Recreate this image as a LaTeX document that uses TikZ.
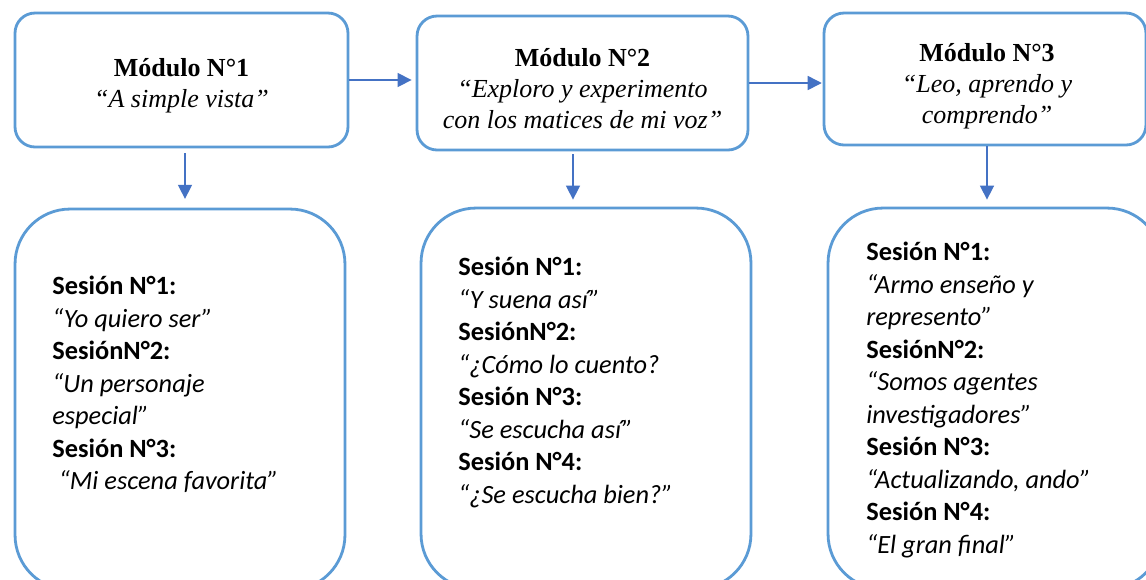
\documentclass[tikz,border=0pt]{standalone}
\usepackage{fontspec}
\setmainfont{Liberation Serif}
\newfontfamily\carlito{Carlito}
\usetikzlibrary{arrows.meta, positioning}

\definecolor{boxblue}{HTML}{5B9BD5}
\definecolor{arrowblue}{HTML}{4472C4}

\begin{document}
\begin{tikzpicture} [x = 0.02cm, y = -0.02cm,
    modbox/.style = {draw = boxblue, line width = 1.6pt, rounded corners = 0.4cm,
        minimum height = 2.68cm},
    modtext/.style = {align = center, inner sep = 0pt, font = \fontsize{14.8}{17.6}\selectfont},
    sesbox/.style = {draw = boxblue, line width = 1.6pt, rounded corners = 1.1cm,
        minimum width = 6.6cm, minimum height = 7.62cm},
    seslist/.style = {anchor = north west, align = left, inner sep = 0pt,
        font = \carlito\fontsize{15}{18.5}\selectfont},
    arr/.style = {-{Triangle[length = 8pt, width = 8pt]}, line width = 0.85pt, draw = arrowblue}]
    \useasboundingbox (0,0) rectangle (1146,579);
    \fill[white] (0,0) rectangle (1146,579);
    \clip (0,0) rectangle (1146,579);

    % modules
    \node (mod1) [modbox, minimum width = 6.66cm] at (181.5,80) {};
    \node (mod2) [modbox, minimum width = 6.62cm] at (582.5,83) {};
    \node (mod3) [modbox, minimum width = 6.44cm, minimum height = 2.64cm] at (985,79) {};
    \node (ttl1) [modtext] at (181.5,86) {\textbf{Módulo N°1}\\ \textit{“A simple vista”}};
    \node (ttl2) [modtext] at (582.5,88.5) {\textbf{Módulo N°2}\\ \textit{“Exploro y experimento}\\ \textit{con los matices de mi voz”}};
    \node (ttl3) [modtext] at (987,86) {\textbf{Módulo N°3}\\ \textit{“Leo, aprendo y}\\ \textit{comprendo”}};

    % sessions
    \node (ses1) [sesbox] at (180,399.5) {};
    \node (ses2) [sesbox] at (586,398.5) {};
    \node (ses3) [sesbox, minimum width = 6.68cm] at (995,398.5) {};

    \node (lst1) [seslist] at (52,276) {\textbf{Sesión N°1:}\\ \textit{“Yo quiero ser”}\\ \textbf{SesiónN°2:}\\
        \textit{“Un personaje}\\ \textit{especial”}\\ \textbf{Sesión N°3:}\\ \hspace{0.25em}\textit{“Mi escena favorita”}};
    \node (lst2) [seslist] at (458,257) {\textbf{Sesión N°1:}\\ \textit{“Y suena así”}\\ \textbf{SesiónN°2:}\\
        \textit{“¿Cómo lo cuento?}\\ \textbf{Sesión N°3:}\\ \textit{“Se escucha así”}\\ \textbf{Sesión N°4:}\\ \textit{“¿Se escucha bien?”}};
    \node (lst3) [seslist] at (866,242) {\textbf{Sesión N°1:}\\ \textit{“Armo enseño y}\\ \textit{represento”}\\ \textbf{SesiónN°2:}\\
        \textit{“Somos agentes}\\ \textit{investigadores”}\\ \textbf{Sesión N°3:}\\ \textit{“Actualizando, ando”}\\ \textbf{Sesión N°4:}\\ \textit{“El gran final”}};

    \path (mod1.east) edge [arr, shorten > = 2.3pt] (mod1.east -| mod2.west);
    \path (mod2.east) edge [arr, shorten > = 0.5pt] (mod2.east -| mod3.west);
    \path ([xshift = 0.07cm]mod1.south) edge [arr, shorten < = 2.8pt, shorten > = 5pt] ([xshift = 0.07cm]mod1.south |- ses1.north);
    \path ([xshift = -0.19cm]mod2.south) edge [arr, shorten < = 1.7pt, shorten > = 4pt] ([xshift = -0.19cm]mod2.south |- ses2.north);
    \path ([xshift = 0.04cm]mod3.south) edge [arr, shorten > = 4pt] ([xshift = 0.04cm]mod3.south |- ses3.north);
\end{tikzpicture}
\end{document}
